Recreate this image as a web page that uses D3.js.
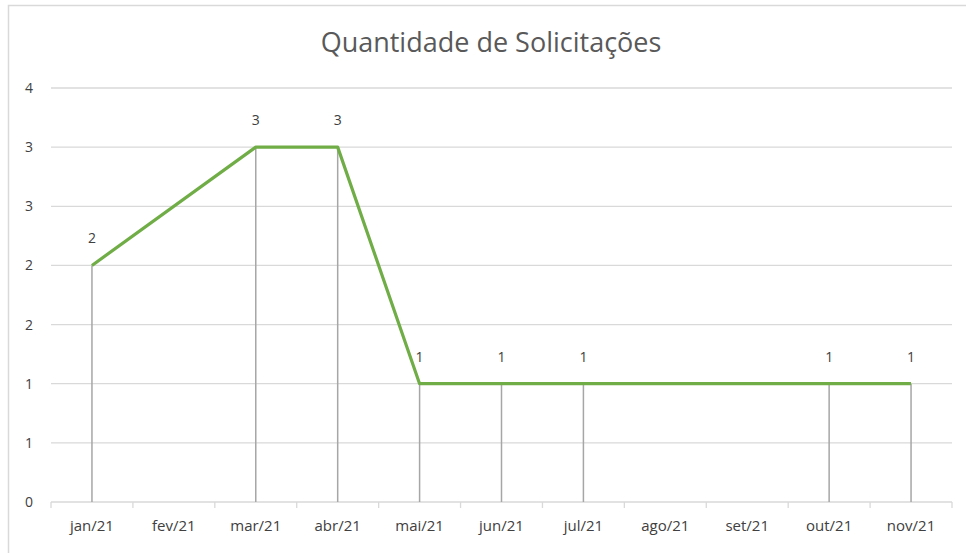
<!DOCTYPE html>
<meta charset="utf-8">
<title>Quantidade de Solicitações</title>
<style>
	body {
		margin: 0;
		background: #fff;
		font-family: 'Open Sans', 'Noto Sans', sans-serif;
	}
	text {
		fill: #595959;
	}
</style>
<body>
<div id="chart"></div>
<script src="https://d3js.org/d3.v7.min.js"></script>
<script>
// categorias (meses) e valores; null = sem dado (linha liga os vizinhos)
var meses = ["jan/21", "fev/21", "mar/21", "abr/21", "mai/21", "jun/21", "jul/21", "ago/21", "set/21", "out/21", "nov/21"];
var solicitacoes = [2, null, 3, 3, 1, 1, 1, null, null, 1, 1];
// ticks do eixo y (Excel arredonda os rótulos)
var yTicks = [0, 0.5, 1, 1.5, 2, 2.5, 3, 3.5];

var width = 966, height = 553;
var margin = {top: 88, right: 14, bottom: 51, left: 51};

var svg = d3.select("#chart").append("svg")
	.attr("width", width)
	.attr("height", height);

// borda do gráfico (cortada à direita e embaixo)
svg.append("rect")
	.attr("x", 8.5).attr("y", 5.5)
	.attr("width", width + 20).attr("height", height + 20)
	.attr("fill", "none")
	.attr("stroke", "#d9d9d9")
	.attr("stroke-width", 1.5);

var x = d3.scaleBand()
	.domain(meses)
	.range([margin.left, width - margin.right]);

var y = d3.scaleLinear()
	.domain([0, 3.5])
	.range([height - margin.bottom, margin.top]);

// título
svg.append("text")
	.attr("x", 491).attr("y", 52)
	.attr("text-anchor", "middle")
	.style("font-size", "27px")
	.style("fill", "#595959")
	.text("Quantidade de Solicitações");

// linhas de grade
svg.append("g")
	.selectAll("line")
	.data(yTicks.slice(1))
	.join("line")
	.attr("x1", margin.left).attr("x2", width - margin.right)
	.attr("y1", d => y(d)).attr("y2", d => y(d))
	.attr("stroke", "#d9d9d9")
	.attr("stroke-width", 1.3);

// eixo y (só rótulos)
svg.append("g")
	.selectAll("text")
	.data(yTicks)
	.join("text")
	.attr("x", 33)
	.attr("y", d => y(d) + 5)
	.attr("text-anchor", "end")
	.style("font-size", "14px")
	.style("fill", "#404040")
	.text(d => Math.round(d + 0.0001));

// eixo x
var xAxis = svg.append("g")
	.attr("transform", "translate(0," + y(0) + ")");
xAxis.append("line")
	.attr("x1", margin.left).attr("x2", width - margin.right)
	.attr("stroke", "#d9d9d9").attr("stroke-width", 1.3);
xAxis.selectAll(".tk")
	.data(meses.concat(["_fim"]))
	.join("line")
	.attr("class", "tk")
	.attr("x1", (d, i) => i < meses.length ? x(d) : x.range()[1])
	.attr("x2", (d, i) => i < meses.length ? x(d) : x.range()[1])
	.attr("y1", 0).attr("y2", 6)
	.attr("stroke", "#d9d9d9").attr("stroke-width", 1.3);
xAxis.selectAll(".lbl")
	.data(meses)
	.join("text")
	.attr("class", "lbl")
	.attr("x", d => x(d) + x.bandwidth() / 2)
	.attr("y", 29)
	.attr("text-anchor", "middle")
	.style("font-size", "15px")
	.style("fill", "#404040")
	.text(d => d);

var pontos = meses.map((m, i) => ({mes: m, v: solicitacoes[i]}))
	.filter(d => d.v !== null);
var cx = d => x(d.mes) + x.bandwidth() / 2;

// linhas de queda
svg.append("g")
	.selectAll("line")
	.data(pontos)
	.join("line")
	.attr("x1", cx).attr("x2", cx)
	.attr("y1", d => y(d.v)).attr("y2", y(0))
	.attr("stroke", "#a6a6a6")
	.attr("stroke-width", 1.5);

// série
svg.append("path")
	.datum(pontos)
	.attr("fill", "none")
	.attr("stroke", "#70ad47")
	.attr("stroke-width", 3.2)
	.attr("stroke-linejoin", "round")
	.attr("d", d3.line().x(cx).y(d => y(d.v)));

// rótulos de dados
svg.append("g")
	.selectAll("text")
	.data(pontos)
	.join("text")
	.attr("x", cx)
	.attr("y", d => y(d.v) - 22)
	.attr("text-anchor", "middle")
	.style("font-size", "14px")
	.style("fill", "#404040")
	.text(d => d.v);
</script>
</body>
